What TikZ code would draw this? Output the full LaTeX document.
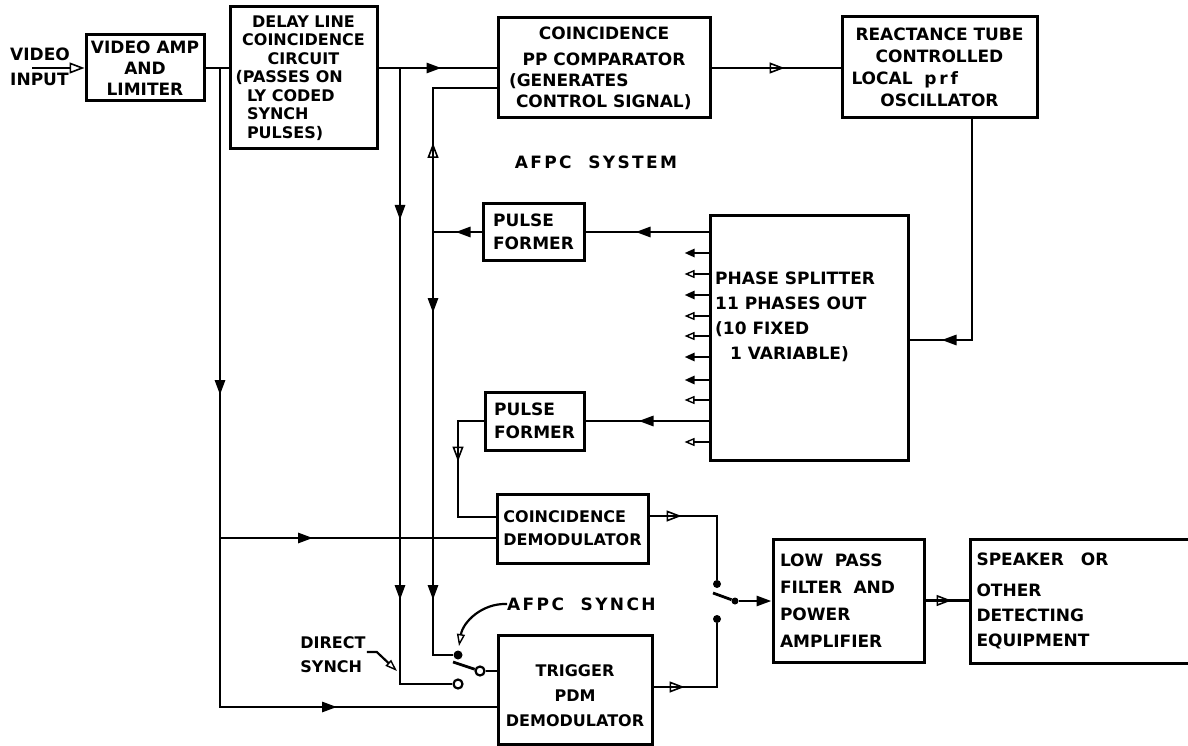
\documentclass[tikz,border=0pt]{standalone}
\usepackage{fontspec}
\setmainfont{DejaVu Sans}
\newfontfamily\spacedfont[LetterSpace=14]{DejaVu Sans}
\usepackage{tikz}
\usetikzlibrary{positioning, arrows.meta, decorations.markings, calc}
\tikzset{
  tipf/.tip={Triangle[length=15pt,width=10pt]},
  tipo/.tip={Triangle[open,line width=1.6pt,length=15pt,width=11pt]},
  tipp/.tip={Triangle[open,line width=1.4pt,length=12pt,width=8pt]}
}
\newcommand{\lett}[2]{\fontsize{#1}{#2}\selectfont\bfseries}

\begin{document}
\begin{tikzpicture}[
  x=1pt, y=-1pt,
  every node/.style={font=\lett{17}{21}},
  blk/.style={draw, line width=3pt, inner sep=0pt, align=center},
  wire/.style={line width=2.8pt},
  fa/.style={postaction={decorate, decoration={markings, mark=at position #1 with {\arrow{tipf}}}}},
  oa/.style={postaction={decorate, decoration={markings, mark=at position #1 with {\arrow{tipo}}}}},
  sf/.style={-{Triangle[length=10pt,width=8pt]}},
  so/.style={-{Triangle[open,line width=1.4pt,length=10pt,width=8pt]}},
  dot/.style={circle, fill, inner sep=0pt, minimum size=9pt},
  odot/.style={circle, draw, fill=white, line width=2.2pt, inner sep=0pt, minimum size=9pt},
  pointer/.style={line width=2.2pt, -{tipp}}
]
  \fill[white] (0,0) rectangle (1188,746);
  \useasboundingbox (0,0) rectangle (1188,746);

  % blocks
  \node[blk, minimum width=118pt, minimum height=66pt] (amp) at (145,68) {VIDEO AMP\\AND\\LIMITER};
  \node[blk, minimum width=147pt, minimum height=142pt, font=\lett{16}{18.5}] (delay) at (303.5,78)
    {DELAY LINE\\COINCIDENCE\\CIRCUIT\\\makebox[136pt][l]{(PASSES ON}\\\makebox[113pt][l]{LY CODED}\\\makebox[113pt][l]{SYNCH}\\\makebox[113pt][l]{PULSES)}};
  \node[blk, minimum width=212pt, minimum height=100pt] (comp) at (604,68)
    {COINCIDENCE\\[5pt]PP COMPARATOR\\\makebox[190pt][l]{(GENERATES}\\\makebox[190pt][l]{\hspace{7pt}CONTROL SIGNAL)}};
  \node[blk, minimum width=195pt, minimum height=101pt, font=\lett{17}{22}] (osc) at (939.5,67.5)
    {REACTANCE TUBE\\CONTROLLED\\\makebox[176pt][l]{LOCAL\ \ p\,r\,f}\\OSCILLATOR};
  \node[blk, minimum width=198pt, minimum height=245pt] (split) at (809,337.5) {};
  \node[anchor=north west, align=left, inner sep=0pt, font=\lett{17}{25}] (splittxt) at (715,272)
    {PHASE SPLITTER\\11 PHASES OUT\\(10 FIXED\\\hspace{15pt}1 VARIABLE)};
  \node[blk, align=left, minimum width=101pt, minimum height=57pt, font=\lett{17}{23}] (pf1) at (533.5,232) {PULSE\\FORMER};
  \node[blk, align=left, minimum width=99pt, minimum height=58pt, font=\lett{17}{23}] (pf2) at (534.5,421) {PULSE\\FORMER};
  \node[blk, align=left, minimum width=151pt, minimum height=69pt, font=\lett{16}{23}] (cdem) at (572.5,528.5) {COINCIDENCE\\DEMODULATOR};
  \node[blk, minimum width=154pt, minimum height=109pt, font=\lett{16}{25}] (trig) at (575,689.5) {\rule{0pt}{24pt}TRIGGER\\PDM\\DEMODULATOR};
  \node[blk, align=left, text width=137pt, inner xsep=7pt, minimum height=123pt, font=\lett{17}{27}] (lpf) at (848.5,600.5)
    {LOW\ \ PASS\\FILTER\ \ AND\\POWER\\AMPLIFIER};
  \node[blk, anchor=west, align=left, text width=214pt, inner xsep=6pt, minimum height=124pt, font=\lett{17}{25}] (spk) at (969,601)
    {SPEAKER\ \ \ OR\\[6pt]OTHER\\DETECTING\\EQUIPMENT};

  % labels
  \node[anchor=west, align=left, inner sep=0pt, font=\lett{17}{25}] (vin) at (10,67) {VIDEO\\INPUT};
  \node[font={\spacedfont\lett{17}{21}}] (sys) at (596,162) {AFPC\ \ SYSTEM};
  \node[anchor=west, inner sep=0pt, font={\spacedfont\lett{17}{21}}] (afpcs) at (507,604) {AFPC\ \ SYNCH};
  \node[align=left, inner sep=1pt, font=\lett{16}{24}] (dsyn) at (333,655) {DIRECT\\SYNCH};

  % switch contacts
  \node[dot] (sa) at (458,655) {};
  \node[odot] (sb) at (458,684) {};
  \node[odot] (sp) at (480,671) {};
  \node[dot, minimum size=8pt] (ra) at (717,584) {};
  \node[dot, minimum size=8pt] (rb) at (717,619) {};
  \node[dot, minimum size=7pt] (rp) at (735,601) {};

  \coordinate (vin0) at (32,68);
  \coordinate (ja) at (220,68);
  \coordinate (jb) at (220,538);
  \coordinate (jc) at (400,68);
  \coordinate (jd) at (433,232);
  \coordinate (je) at (458,517);
  \coordinate (sbl) at (453,662);
  \coordinate (rbl) at (713,593);
  \coordinate (afpcp) at (459,646);
  \coordinate (dsp) at (397,671);

  % signal path
  \draw[wire, -{tipo}] (vin0) -- (amp.west);
  \draw[wire] (amp.east) -- (delay.west |- amp.east);
  \draw[wire, fa=327pt, fa=756pt] (ja) |- (trig.west |- 0,707);
  \draw[wire, fa=93pt] (jb) -- (cdem.west |- jb);
  \draw[wire, fa=63pt] (delay.east |- ja) -- (comp.west |- ja);
  \draw[wire, fa=152pt, fa=532pt] (jc) |- (sb);
  \draw[wire, oa=73pt] (comp.east) -- (osc.west |- comp.east);
  \draw[wire, fa=251pt] (osc.south -| 972,0) |- (split.east |- 0,340);

  % phase splitter outputs
  \draw[wire, fa=73pt] (split.west |- pf1.east) -- (pf1.east);
  \draw[wire, fa=26pt] (pf1.west) -- (jd);
  \draw[wire, oa=89pt] (jd) |- (comp.west |- 0,88);
  \draw[wire, fa=81pt, fa=368pt] (jd) |- (sa);
  \draw[wire, fa=70pt] (split.west |- pf2.east) -- (pf2.east);
  \draw[wire, oa=66pt] (pf2.west) -| (je) -- (cdem.west |- je);
  \foreach \yy/\tp in {253/sf, 274/so, 295/sf, 316/so, 336/so, 357/sf, 380/sf, 400/so, 442/so}
    \draw[line width=2.6pt, \tp] (split.west |- 0,\yy) -- ++(-24,0);

  % switches
  \draw[wire] (sbl) -- (sp);
  \draw[wire] (sp) -- (trig.west |- sp);
  \draw[wire, oa=32pt] (cdem.east |- 0,516) -| (ra);
  \draw[wire, oa=31pt] (trig.east |- 0,687) -| (rb);
  \draw[wire] (rbl) -- (rp);
  \draw[wire, -{tipf}] (rp) -- (lpf.west |- rp);
  \draw[wire, oa=26pt] (lpf.east) -- (spk.west |- lpf.east);

  % pointers
  \draw[pointer] (afpcs.west) .. controls (482,603) and (463,622) .. (afpcp);
  \draw[pointer] (dsyn.east |- 0,652) -- ++(10,0) -- (dsp);
\end{tikzpicture}
\end{document}
